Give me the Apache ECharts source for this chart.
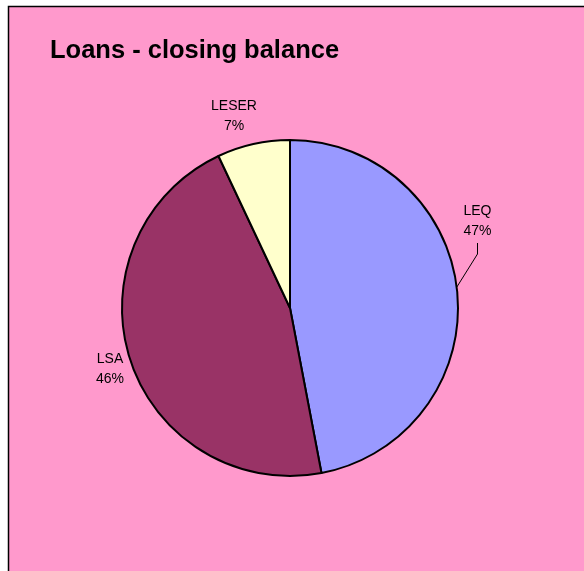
<!DOCTYPE html>
<html>
<head>
<meta charset="utf-8">
<script src="https://cdn.jsdelivr.net/npm/echarts@6/dist/echarts.min.js"></script>
<style>
html, body { margin: 0; padding: 0; background: #ffffff; }
#chart { width: 584px; height: 571px; }
</style>
</head>
<body>
<div id="chart"></div>
<script>
// Data
const titleText = 'Loans - closing balance';
const categories = ['LEQ', 'LSA', 'LESER'];
const values = [47, 46, 7];
const sliceColors = ['#9999FF', '#993366', '#FFFFCC'];

// Label anchor positions (layout only)
const labelAnchors = [[477.5, 221], [110, 369], [234, 116]];
const labelLineFlags = [true, false, false];

const FONT = '"Liberation Sans", Arial, sans-serif';
const CX = 290, CY = 308, R = 168;

const chart = echarts.init(document.getElementById('chart'), null, { renderer: 'canvas' });

const seriesData = categories.map((name, i) => ({
  name: name,
  value: values[i],
  itemStyle: { color: sliceColors[i] },
  labelLine: { show: labelLineFlags[i] }
}));

chart.setOption({
  backgroundColor: '#ffffff',
  animation: false,
  graphic: [{
    type: 'rect',
    z: -10,
    silent: true,
    shape: { x: 8.5, y: 6.5, width: 700, height: 700 },
    style: { fill: '#FF99CC', stroke: '#000000', lineWidth: 1.5 }
  }],
  title: {
    text: titleText,
    left: 50,
    top: 38,
    padding: 0,
    textStyle: { fontFamily: FONT, fontSize: 25.5, fontWeight: 'bold', color: '#000000' }
  },
  series: [{
    type: 'pie',
    center: [CX, CY],
    radius: R,
    startAngle: 90,
    clockwise: true,
    percentPrecision: 0,
    data: seriesData,
    itemStyle: { borderColor: '#000000', borderWidth: 2 },
    emphasis: { disabled: true },
    label: {
      show: true,
      position: 'outside',
      formatter: '{b}\n{d}%',
      fontFamily: FONT,
      fontSize: 14,
      lineHeight: 20,
      color: '#000000',
      align: 'center'
    },
    labelLine: {
      show: true,
      lineStyle: { color: '#000000', width: 1 }
    },
    labelLayout: function (params) {
      const i = params.dataIndex;
      const a = labelAnchors[i];
      const res = {
        x: a[0],
        y: a[1],
        align: 'center',
        verticalAlign: 'middle'
      };
      if (labelLineFlags[i]) {
        const ang = 7.1 * Math.PI / 180;
        const ex = CX + R * Math.cos(ang);
        const ey = CY - R * Math.sin(ang);
        res.labelLinePoints = [[ex, ey], [a[0], a[1] + 33], [a[0], a[1] + 22]];
      }
      return res;
    }
  }]
});
</script>
</body>
</html>
